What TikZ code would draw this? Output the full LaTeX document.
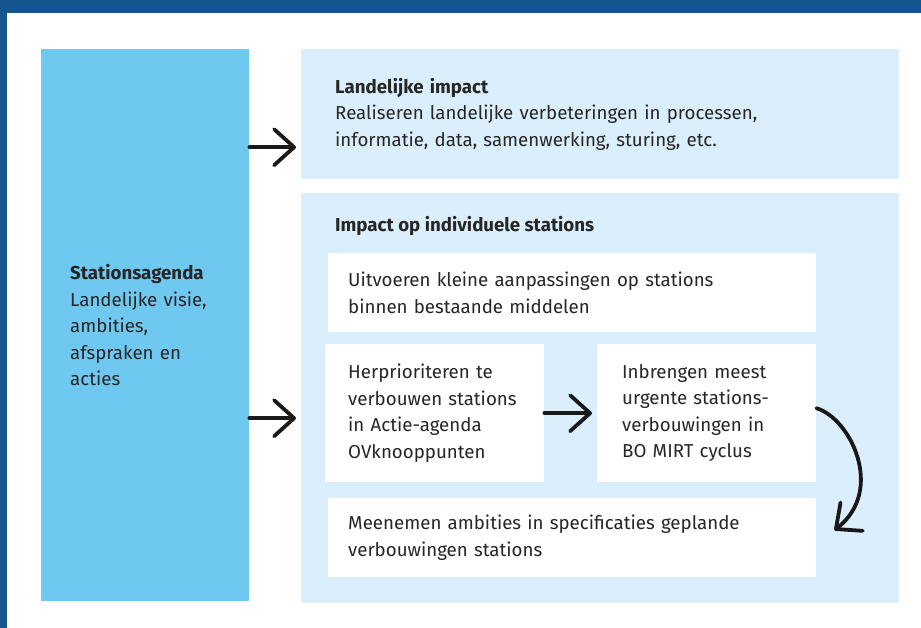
\documentclass[tikz,border=0pt]{standalone}
\usepackage{fontspec}
\setmainfont{Fira Sans}
\usetikzlibrary{positioning,arrows.meta}
\definecolor{rijksblauw}{RGB}{22,86,143}
\definecolor{hemelblauw}{RGB}{111,200,239}
\definecolor{lichtblauw}{RGB}{218,239,251}
\definecolor{tekstgrijs}{RGB}{38,38,38}

\begin{document}
\begin{tikzpicture}[
      x=1pt,y=-1pt,
      font=\fontsize{18.7}{26.5}\selectfont,
      text=tekstgrijs,
      agenda/.style ={fill=hemelblauw,anchor=north west,align=left,inner xsep=29pt,inner ysep=0pt,
                      minimum width=208pt,minimum height=552pt,text width=150pt},
      panel/.style  ={fill=lichtblauw,anchor=north west,align=left,inner xsep=34pt,inner ysep=0pt,
                      minimum width=598pt,text width=530pt},
      blok/.style   ={fill=white,anchor=north west,align=left,inner ysep=0pt},
      pijl/.style   ={draw=black!90,line width=3.8pt,line cap=round,
                      -{Straight Barb[length=20pt,width=36pt,round]}}]
      % Frame
      \useasboundingbox (0,0) rectangle (921,628);
      \fill[white] (0,0) rectangle (921,628);
      \fill[rijksblauw] (0,0) rectangle (921,13);
      \fill[rijksblauw] (0,0) rectangle (7,628);

      % Stationsagenda
      \node[agenda] (agenda) at (41,49) {\textbf{Stationsagenda}\\Landelijke visie,\\ambities,\\afspraken en\\acties};

      % Panels
      \node[panel,minimum height=130pt] (landelijk) at (301,49)
        {\textbf{Landelijke impact}\\Realiseren landelijke verbeteringen in processen,\\informatie, data, samenwerking, sturing, etc.};
      \node[panel,minimum height=410pt] (stations) at (301,193) {};
      \node[anchor=base west,inner sep=0pt,font=\fontsize{18.7}{26.5}\selectfont\bfseries] (stitel) at (335,232) {Impact op individuele stations};

      % Blokken in het onderste panel
      \node[blok,inner xsep=20pt,minimum width=488pt,minimum height=79pt,text width=448pt] (uitvoeren) at (328,253)
        {Uitvoeren kleine aanpassingen op stations\\binnen bestaande middelen};
      \node[blok,inner xsep=23pt,minimum width=219pt,minimum height=138pt,text width=173pt] (herprio) at (325,344)
        {Herprioriteren te\\verbouwen stations\\in Actie-agenda\\OVknooppunten};
      \node[blok,inner xsep=25pt,minimum width=219pt,minimum height=138pt,text width=169pt] (inbrengen) at (597,344)
        {Inbrengen meest\\urgente stations-\\verbouwingen in\\BO MIRT cyclus};
      \node[blok,inner xsep=20pt,minimum width=488pt,minimum height=79pt,text width=448pt] (meenemen) at (328,498)
        {Meenemen ambities in specificaties geplande\\verbouwingen stations};

      % Pijlen
      \coordinate (p1) at ([xshift=-5pt,yshift=-33pt]landelijk.west);
      \coordinate (p2) at ([xshift=-5pt,yshift=-20pt]stations.west);
      \coordinate (p4) at ([xshift=18pt,yshift=7.5pt]meenemen.east);
      \draw[pijl] (agenda.east |- p1) -- (p1);
      \draw[pijl] (agenda.east |- p2) -- (p2);
      \draw[pijl,shorten >=5pt] (herprio) -- (inbrengen);
      \draw[pijl] ([yshift=5pt]inbrengen.east) .. controls +(34,10) and +(51,-40) .. (p4);
\end{tikzpicture}
\end{document}
